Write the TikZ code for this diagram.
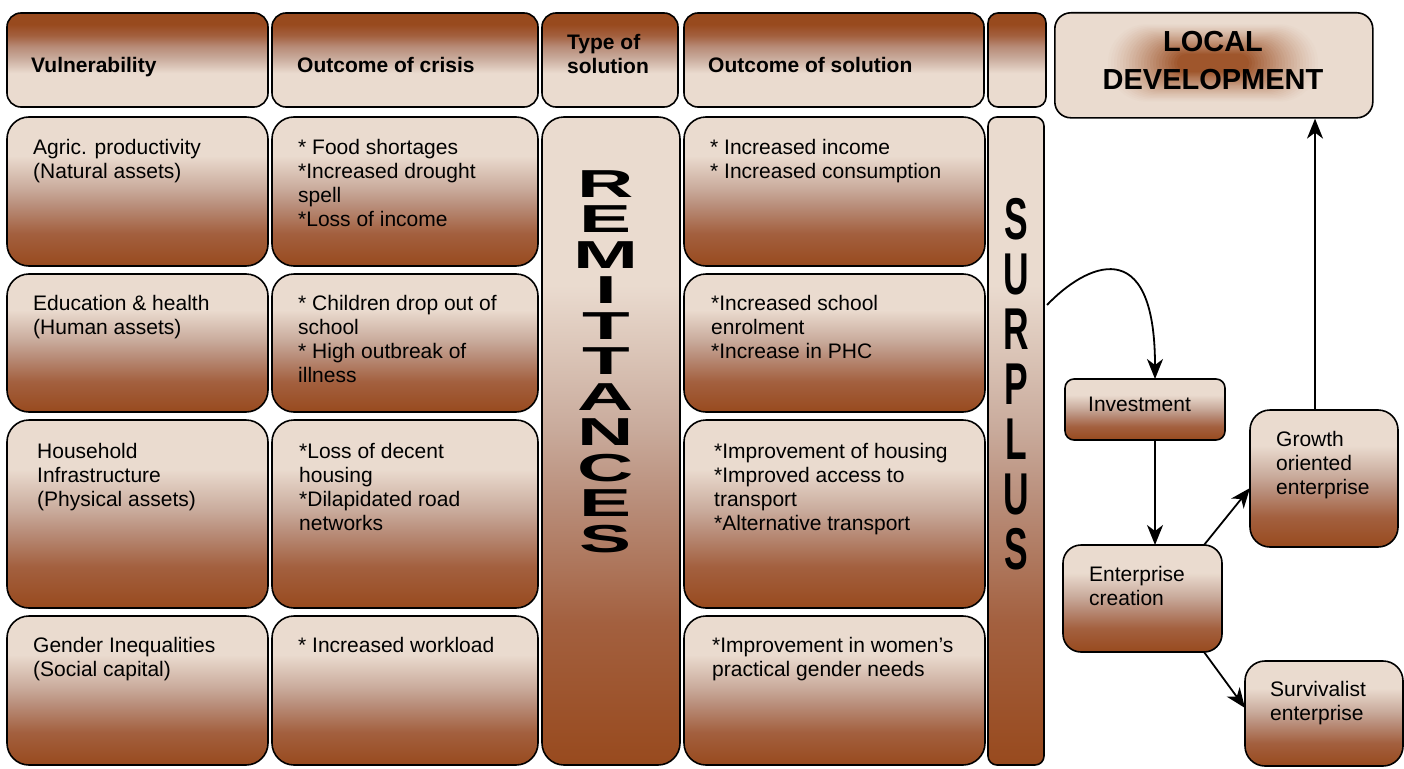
\documentclass[tikz,border=0pt]{standalone}
\usepackage{fontspec}
\setmainfont{Liberation Sans}
\usetikzlibrary{arrows.meta,calc}
\definecolor{cdark}{HTML}{984A1E}
\definecolor{clight}{HTML}{EADBCF}
\definecolor{cmA}{HTML}{A3603F}
\definecolor{cmB}{HTML}{B88C78}
\definecolor{cmC}{HTML}{C9AB9C}
\pgfdeclareverticalshading{rowshade}{100bp}{color(0bp)=(cdark); color(25bp)=(cdark); color(36bp)=(cmA); color(45bp)=(cmB); color(51bp)=(cmC); color(62bp)=(clight); color(100bp)=(clight)}
\pgfdeclareverticalshading{headshade}{100bp}{color(0bp)=(clight); color(43bp)=(clight); color(51bp)=(cmC); color(57bp)=(cmB); color(63bp)=(cmA); color(69bp)=(cdark); color(100bp)=(cdark)}
\newcommand\stackletters[2]{\vbox{\baselineskip=#1\relax\lineskiplimit=-100pt\lineskip=0pt\halign{\hfil##\hfil\cr#2}}}
\begin{document}
\begin{tikzpicture}[x=1pt,y=-1pt,
  bx/.style={draw=black, line width=1.6pt, anchor=north west, inner sep=0pt, outer sep=0pt, shade, shading=rowshade},
  hd/.style={bx, shading=headshade, rounded corners=14pt},
  rw/.style={bx, rounded corners=22pt},
  txt/.style={anchor=north west, inner sep=0pt, align=left, font=\fontsize{21}{24}\selectfont},
  htxt/.style={anchor=base west, inner sep=0pt, align=left, font=\fontsize{21}{24}\selectfont\bfseries},
  arr/.style={-{Stealth[length=20pt,width=16pt,inset=6pt]}, line width=1.8pt}]
\useasboundingbox (0,0) rectangle (1404,768);

% header row
\node[hd, minimum width=261pt, minimum height=94pt] (h1) at (7,13) {};
\node[hd, minimum width=266pt, minimum height=94pt] (h2) at (272,13) {};
\node[hd, minimum width=136pt, minimum height=94pt] (h3) at (542,13) {};
\node[hd, minimum width=300pt, minimum height=94pt] (h4) at (684,13) {};
\node[hd, rounded corners=10pt, minimum width=58pt, minimum height=94pt] (h5) at (988,13) {};
\node[htxt] (h1t) at (31,73) {Vulnerability};
\node[htxt] (h2t) at (297,73) {Outcome of crisis};
\node[txt, font=\fontsize{21}{24}\selectfont\bfseries] (h3t) at (567,34) {Type of\\solution};
\node[htxt] (h4t) at (708,73) {Outcome of solution};

% local development
\node[draw=black, line width=1.6pt, anchor=north west, inner sep=0pt, fill=clight, rounded corners=16pt, minimum width=318pt, minimum height=105pt] (ld) at (1054,12) {};
\foreach \k in {0,...,24}{
  \pgfmathsetmacro\tt{\k/24}
  \pgfmathsetmacro\ww{108-72*\tt}
  \pgfmathsetmacro\hh{40-31*\tt}
  \pgfmathsetmacro\pp{92*(\tt^1.2)}
  \fill[cdark!\pp!clight, rounded corners=\hh pt] (1213-\ww,63-\hh) rectangle (1213+\ww,63+\hh);
}
\node[inner sep=0pt, align=center, font=\fontsize{29}{38}\selectfont\bfseries] (ldt) at (1213,61) {LOCAL\\DEVELOPMENT};

% row 1
\node[rw, minimum width=261pt, minimum height=149pt] (v1) at (7,117) {};
\node[rw, minimum width=266pt, minimum height=149pt] (c1) at (272,117) {};
\node[rw, minimum width=301pt, minimum height=149pt] (s1) at (684,117) {};
% row 2
\node[rw, minimum width=261pt, minimum height=138pt] (v2) at (7,274) {};
\node[rw, minimum width=266pt, minimum height=138pt] (c2) at (272,274) {};
\node[rw, minimum width=301pt, minimum height=138pt] (s2) at (684,274) {};
% row 3
\node[rw, minimum width=261pt, minimum height=188pt] (v3) at (7,420) {};
\node[rw, minimum width=266pt, minimum height=188pt] (c3) at (272,420) {};
\node[rw, minimum width=301pt, minimum height=188pt] (s3) at (684,420) {};
% row 4
\node[rw, minimum width=261pt, minimum height=149pt] (v4) at (7,616) {};
\node[rw, minimum width=266pt, minimum height=149pt] (c4) at (272,616) {};
\node[rw, minimum width=301pt, minimum height=149pt] (s4) at (684,616) {};

% tall boxes
\node[rw, minimum width=138pt, minimum height=648pt] (rem) at (542,117) {};
\node[bx, rounded corners=9pt, minimum width=56pt, minimum height=648pt] (sur) at (988,117) {};
\node[inner sep=0pt, anchor=north, font=\fontsize{39}{39}\selectfont\bfseries] (remt) at (606,170)
  {\scalebox{2}[1]{\stackletters{35.5pt}{R\cr E\cr M\cr I\cr T\cr T\cr A\cr N\cr C\cr E\cr S\cr}}};
\node[inner sep=0pt, anchor=north, font=\fontsize{59}{59}\selectfont\bfseries] (surt) at (1016,198)
  {\scalebox{0.6}[1]{\stackletters{55pt}{S\cr U\cr R\cr P\cr L\cr U\cr S\cr}}};

% row texts
\node[txt] (v1t) at (33,139) {Agric. productivity\\(Natural assets)};
\node[txt] (c1t) at (298,139) {* Food shortages\\*Increased drought\\spell\\*Loss of income};
\node[txt] (s1t) at (710,139) {* Increased income\\* Increased consumption};
\node[txt] (v2t) at (33,295) {Education \& health\\(Human assets)};
\node[txt] (c2t) at (298,295) {* Children drop out of\\school\\* High outbreak of\\illness};
\node[txt] (s2t) at (711,295) {*Increased school\\enrolment\\*Increase in PHC};
\node[txt] (v3t) at (37,443) {Household\\Infrastructure\\(Physical assets)};
\node[txt] (c3t) at (299,443) {*Loss of decent\\housing\\*Dilapidated road\\networks};
\node[txt] (s3t) at (714,443) {*Improvement of housing\\*Improved access to\\transport\\*Alternative transport};
\node[txt] (v4t) at (33,637) {Gender Inequalities\\(Social capital)};
\node[txt] (c4t) at (298,637) {* Increased workload};
\node[txt] (s4t) at (712,637) {*Improvement in women’s\\practical gender needs};

% right side flow
\node[bx, rounded corners=9pt, minimum width=160pt, minimum height=61pt] (inv) at (1065,379) {};
\node[bx, rounded corners=18pt, minimum width=159pt, minimum height=107pt] (ent) at (1063,545) {};
\node[bx, rounded corners=20pt, minimum width=148pt, minimum height=137pt] (gro) at (1250,410) {};
\node[bx, rounded corners=20pt, minimum width=158pt, minimum height=105pt] (svl) at (1245,661) {};
\node[txt] (invt) at (1088,397) {Investment};
\node[txt] (entt) at (1089,566) {Enterprise\\creation};
\node[txt] (grot) at (1276,431) {Growth\\oriented\\enterprise};
\node[txt] (svlt) at (1270,681) {Survivalist\\enterprise};

\coordinate (cs) at (1047,305);
\draw[arr] (cs) .. controls (1085,265) and (1155,230) .. ($(inv.north west)+(90,0)$);
\draw[arr] ($(inv.south west)+(90,0)$) -- ($(ent.north west)+(92,0)$);
\draw[arr] ($(ent.north west)+(141,0)$) -- ($(gro.north west)+(0,78)$);
\draw[arr] ($(ent.south west)+(141,0)$) -- ($(svl.north west)+(0,47)$);
\draw[arr] ($(gro.north west)+(65,0)$) -- ($(ld.south west)+(261,0)$);
\end{tikzpicture}
\end{document}
